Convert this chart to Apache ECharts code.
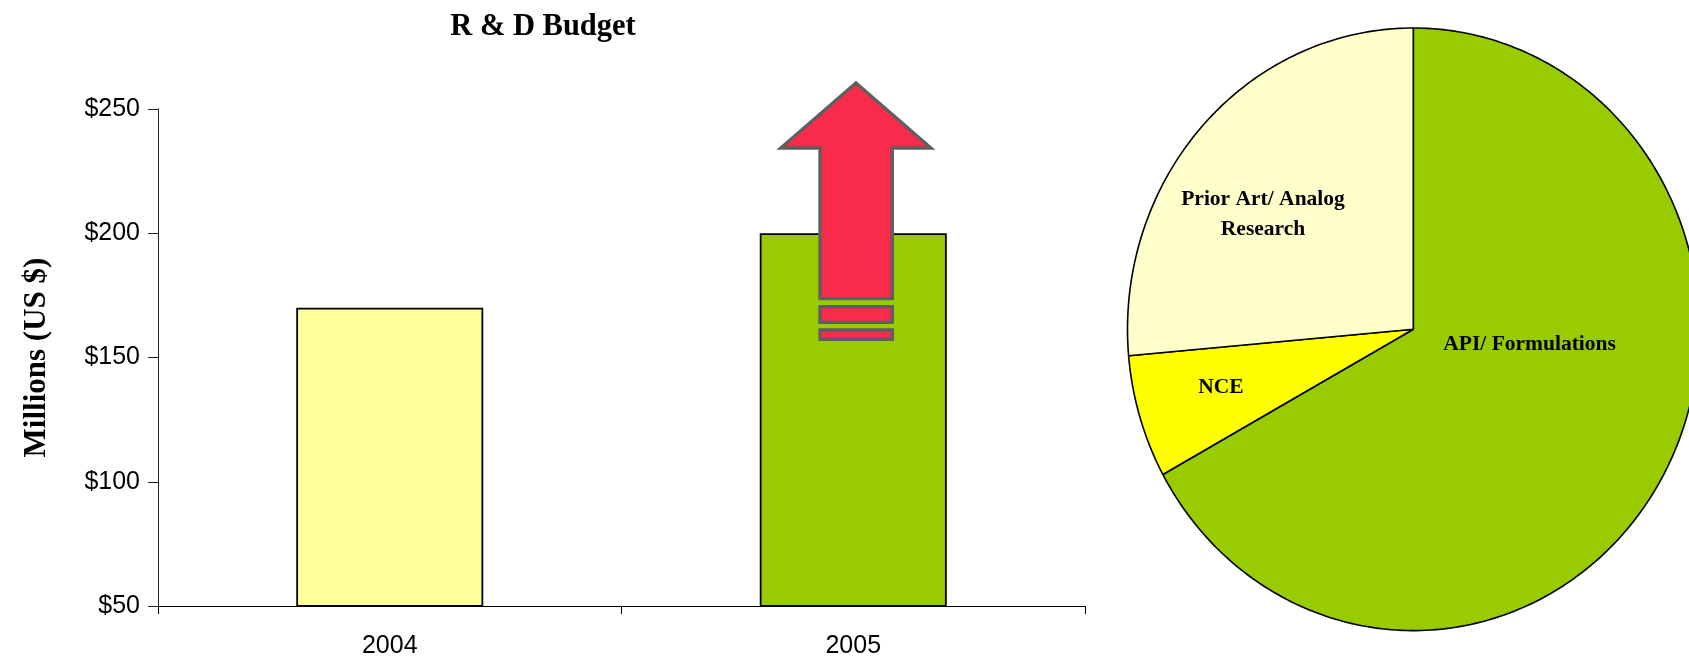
<!DOCTYPE html>
<html>
<head>
<meta charset="utf-8">
<script src="https://cdn.jsdelivr.net/npm/echarts@6/dist/echarts.min.js"></script>
<style>
  html, body { margin: 0; padding: 0; background: #ffffff; }
  #main { width: 1689px; height: 659px; }
</style>
</head>
<body>
<div id="main"></div>
<script>
// R & D budget by year (millions of US $)
const years = ['2004', '2005'];
const budget = [170, 200];
const barColors = ['#FFFF99', '#99CC00'];
const yTicks = [50, 100, 150, 200, 250];

// Split of the R & D budget (percent)
const shareNames = ['API/ Formulations', 'NCE', 'Prior Art/ Analog\nResearch'];
const shareValues = [67, 6.6, 26.4];
const shareColors = ['#99CC00', '#FFFF00', '#FFFFCC'];

// Pie geometry (slightly elliptical) and label placement
const PIE = { cx: 1413.3, cy: 329.3, rx: 285.8, ry: 301.3 };
const labelAngle = [97, 254, 306];   // degrees clockwise from 12 o'clock
const labelRadius = [0.41, 0.70, 0.65];

const SERIF = "'Liberation Serif', 'Times New Roman', Times, serif";
const SANS = "'Liberation Sans', Arial, Helvetica, sans-serif";

const total = shareValues.reduce((a, b) => a + b, 0);
const startFrac = shareValues.map((v, i) =>
  shareValues.slice(0, i).reduce((a, b) => a + b, 0) / total);

function ellipsePoint(frac, k) {
  const t = frac * Math.PI * 2;
  return [PIE.cx + PIE.rx * k * Math.sin(t), PIE.cy - PIE.ry * k * Math.cos(t)];
}

function renderSlice(params, api) {
  const i = params.dataIndex;
  const v = api.value(1);
  const f0 = startFrac[i];
  const f1 = f0 + v / total;
  const steps = Math.max(8, Math.ceil((f1 - f0) * 360));
  const pts = [[PIE.cx, PIE.cy]];
  for (let s = 0; s <= steps; s++) {
    pts.push(ellipsePoint(f0 + (f1 - f0) * s / steps, 1));
  }
  const lp = ellipsePoint(labelAngle[i] / 360, labelRadius[i]);
  return {
    type: 'group',
    children: [
      {
        type: 'polygon',
        shape: { points: pts },
        style: { fill: shareColors[i], stroke: '#000000', lineWidth: 1.6, lineJoin: 'round' }
      },
      {
        type: 'text',
        z2: 10,
        style: {
          x: lp[0], y: lp[1],
          text: shareNames[i],
          align: 'center', verticalAlign: 'middle',
          fontFamily: SERIF, fontWeight: 'bold', fontSize: 21.5,
          lineHeight: 30, fill: '#000000'
        }
      }
    ]
  };
}

const ARROW_FILL = '#F92B4B';
const ARROW_EDGE = { stroke: '#5F5F5F', lineWidth: 3.3 };

const chart = echarts.init(document.getElementById('main'), null, { renderer: 'canvas' });

chart.setOption({
  animation: false,
  backgroundColor: '#ffffff',
  title: {
    text: 'R & D Budget',
    left: 538,
    top: 7,
    textAlign: 'center',
    textStyle: { fontFamily: SERIF, fontWeight: 'bold', fontSize: 30.5, color: '#000000' }
  },
  grid: { left: 158, right: 604, top: 109, bottom: 52, containLabel: false },
  xAxis: {
    type: 'category',
    data: years,
    boundaryGap: true,
    axisLine: { lineStyle: { color: '#000000', width: 1 } },
    axisTick: { show: true, inside: false, length: 8, alignWithLabel: false, lineStyle: { color: '#000000' } },
    axisLabel: { color: '#000000', fontFamily: SANS, fontSize: 25, margin: 28 },
    splitLine: { show: false }
  },
  yAxis: {
    type: 'value',
    min: yTicks[0],
    max: yTicks[yTicks.length - 1],
    interval: yTicks[1] - yTicks[0],
    name: 'Millions (US $)',
    nameLocation: 'middle',
    nameGap: 106,
    nameRotate: 90,
    nameTextStyle: { fontFamily: SERIF, fontWeight: 'bold', fontSize: 31, color: '#000000' },
    axisLine: { show: true, lineStyle: { color: '#222222', width: 1 } },
    axisTick: { show: true, inside: false, length: 10, lineStyle: { color: '#222222' } },
    axisLabel: { color: '#000000', fontFamily: SANS, fontSize: 25, margin: 18,
                 formatter: v => '$' + v },
    splitLine: { show: false }
  },
  series: [
    {
      type: 'bar',
      barWidth: 187,
      data: budget.map((v, i) => ({
        value: v,
        itemStyle: { color: barColors[i], borderColor: '#000000', borderWidth: 1.8 }
      })),
      z: 2
    },
    {
      type: 'custom',
      coordinateSystem: 'none',
      renderItem: renderSlice,
      data: shareValues.map((v, i) => ({ name: shareNames[i], value: [i, v] })),
      z: 3
    }
  ],
  graphic: [
    // upward arrow over the 2005 bar
    {
      type: 'polygon',
      z: 100,
      shape: { points: [[856, 83], [931, 148], [892.3, 148], [892.3, 298.7],
                        [820, 298.7], [820, 148], [780.7, 148]] },
      style: Object.assign({ fill: ARROW_FILL, lineJoin: 'miter' }, ARROW_EDGE)
    },
    {
      type: 'rect',
      z: 100,
      shape: { x: 820, y: 306.7, width: 72.3, height: 15.6 },
      style: Object.assign({ fill: ARROW_FILL }, ARROW_EDGE)
    },
    {
      type: 'rect',
      z: 100,
      shape: { x: 820, y: 330, width: 72.3, height: 9.3 },
      style: Object.assign({ fill: ARROW_FILL }, ARROW_EDGE)
    }
  ]
});
</script>
</body>
</html>
